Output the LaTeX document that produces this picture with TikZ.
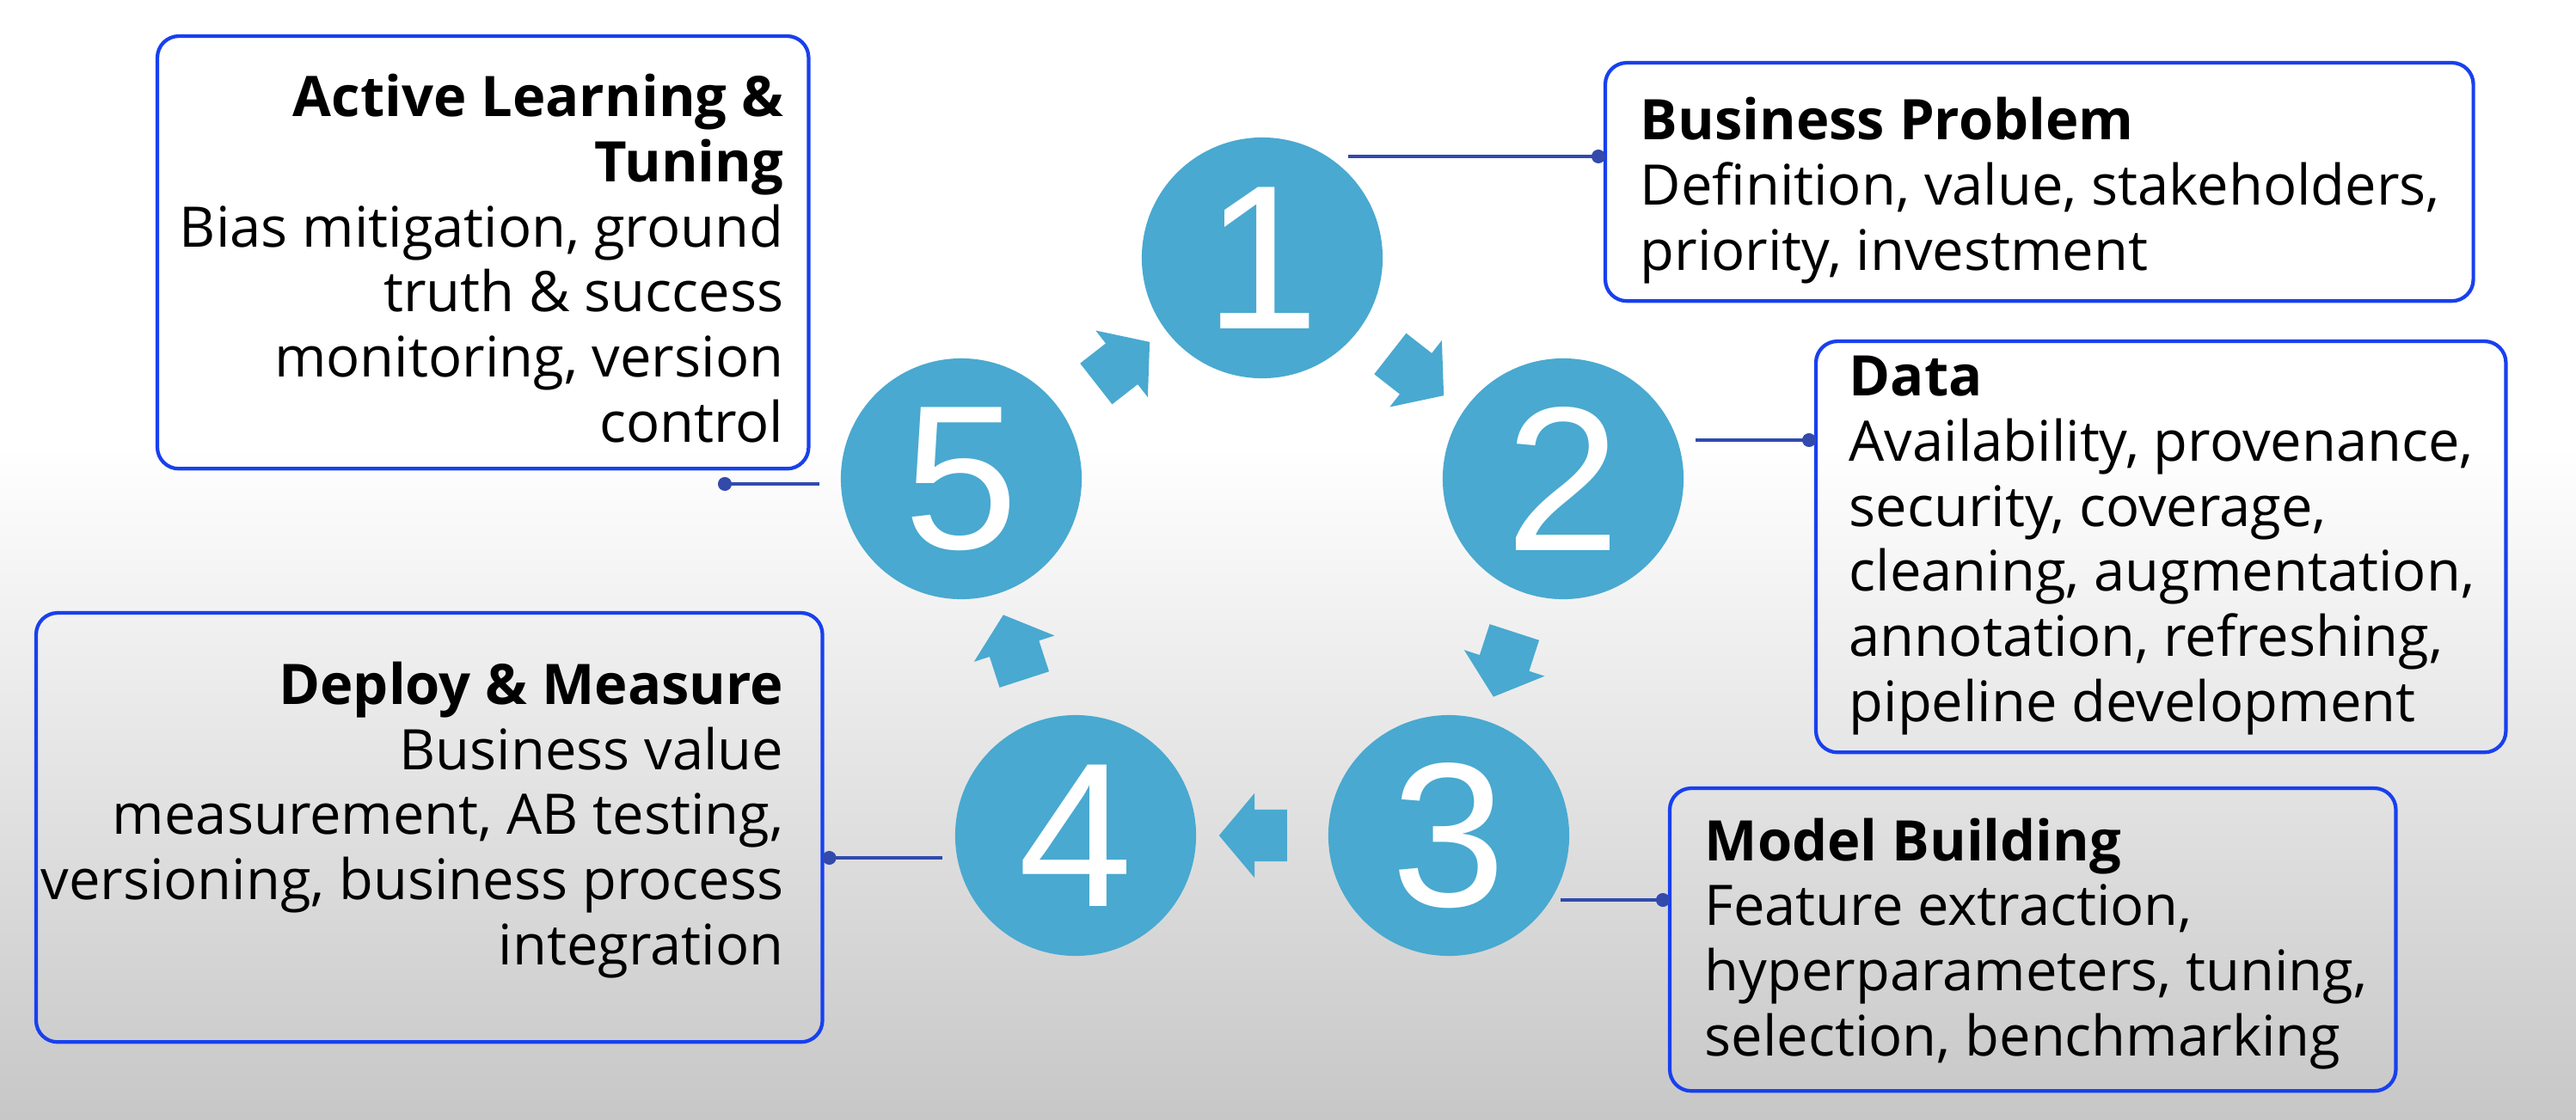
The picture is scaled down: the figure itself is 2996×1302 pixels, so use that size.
\documentclass[tikz,border=0pt]{standalone}
\usepackage{fontspec}
\setmainfont{Open Sans}
\newfontfamily\numfont{Liberation Sans}
\usetikzlibrary{arrows.meta,shapes.arrows}
\tikzset{>=latex}
\usepackage{xcolor}
\definecolor{stageblue}{RGB}{73,169,208}
\definecolor{boxblue}{RGB}{24,64,238}
\definecolor{linkblue}{RGB}{50,74,172}
\tikzstyle{stage}=[circle,fill=stageblue,minimum size=2.8cm,inner sep=0,text=white,font=\numfont\fontsize{68}{70}\selectfont]
\tikzstyle{flow}=[single arrow,fill=stageblue,minimum height=0.79cm,single arrow head extend=0.19cm,single arrow tip angle=100,inner xsep=0,inner ysep=0.295cm]
\tikzstyle{info box}=[draw=boxblue,line width=1.2pt,rounded corners=0.25cm,anchor=north west,outer sep=0]
\tikzstyle{info}=[inner sep=0,font=\fontsize{18.5}{21.5}\selectfont]
\tikzstyle{link}=[linkblue,line width=0.9pt,-{Circle[length=0.16cm]}]

\begin{document}
\begin{tikzpicture}[x=0.01cm,y=-0.01cm]
    \useasboundingbox (0,0) rectangle (2996,1302);
    % BACKGROUND
    \fill[white] (0,0) rectangle (2996,520);
    \shade[top color=white,bottom color=black!22] (0,520) rectangle (2996,1302);

    % DRAW STAGES
    \foreach \i/\x/\y in {1/1468/300,2/1818/557,3/1685/972,4/1251/972,5/1118/557}{
        \node[stage] (c\i) at (\x,\y) {\i};
    }
    % DRAW FLOW ARROWS
    \foreach \i/\x/\y/\a in {12/1638/428/-38,23/1753/761/-108,34/1470/972/180,45/1183/765/108,51/1296/430/38}{
        \node[flow,rotate=\a] (a\i) at (\x,\y) {};
    }

    % INFO BOXES
    \node[info box,minimum width=10.09cm,minimum height=2.77cm] (b1) at (1867,73) {};
    \node[info box,minimum width=8.02cm,minimum height=4.78cm] (b2) at (2112,397) {};
    \node[info box,minimum width=8.44cm,minimum height=3.52cm] (b3) at (1942,917) {};
    \node[info box,minimum width=9.14cm,minimum height=4.99cm] (b4) at (42,713) {};
    \node[info box,minimum width=7.57cm,minimum height=5.03cm] (b5) at (183,42) {};

    % texts, anchored at the baseline of their last line
    \node[info,anchor=base west,align=left] (t1) at (1907,314)
        {\textbf{Business Problem}\\Definition, value, stakeholders,\\priority, investment};
    \node[info,anchor=base west,align=left] (t2) at (2150,839)
        {\textbf{Data}\\Availability, provenance,\\security, coverage,\\cleaning, augmentation,\\annotation, refreshing,\\pipeline development};
    \node[info,anchor=base west,align=left] (t3) at (1982,1228)
        {\textbf{Model Building}\\Feature extraction,\\hyperparameters, tuning,\\selection, benchmarking};
    \node[info,anchor=base east,align=right] (t4) at (912,1122)
        {\textbf{Deploy \& Measure}\\Business value\\measurement, AB testing,\\versioning, business process\\integration};
    \node[info,anchor=base east,align=right] (t5) at (912,514)
        {\textbf{Active Learning \&}\\\textbf{Tuning}\\Bias mitigation, ground\\truth \& success\\monitoring, version\\control};

    % LINKS
    \coordinate (s1) at (1568,182);
    \coordinate (s2) at (1972,512);
    \coordinate (s3) at (1815,1047);
    \coordinate (s4) at (1096,998);
    \coordinate (s5) at (953,563);
    \coordinate (e5) at (835,563);
    \draw[link] (s1) -- (s1 -| b1.west);
    \draw[link] (s2) -- (s2 -| b2.west);
    \draw[link] (s3) -- (s3 -| b3.west);
    \draw[link] (s4) -- (s4 -| b4.east);
    \draw[link] (s5) -- (e5);
\end{tikzpicture}
\end{document}
